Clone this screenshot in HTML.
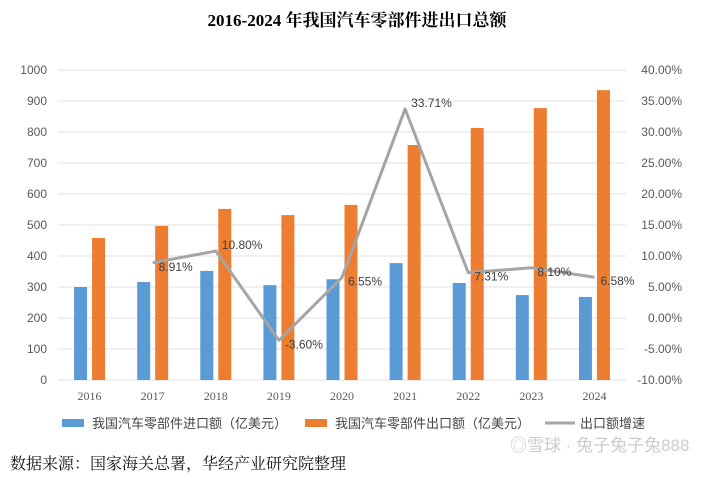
<!DOCTYPE html>
<html><head><meta charset="utf-8"><style>
body{margin:0;background:#fff;width:714px;height:477px;overflow:hidden;font-family:"Liberation Sans","Noto Sans CJK SC",sans-serif}
</style></head><body>
<svg id="chart" width="714" height="477" xmlns="http://www.w3.org/2000/svg">
<text x="357" y="26" text-anchor="middle" font-family="'Liberation Serif','Noto Serif CJK SC',serif" font-weight="bold" font-size="17" fill="#000">2016-2024 年我国汽车零部件进出口总额</text>
<g id="grid"></g><g id="bars"></g><g id="line"></g><g id="axes"></g>
<g font-size="13" fill="#444">
<rect x="62" y="419" width="22" height="8" fill="#5b9bd5"/>
<text x="92" y="428">我国汽车零部件进口额（亿美元）</text>
<rect x="305" y="419" width="22" height="8" fill="#ed7d31"/>
<text x="335" y="428">我国汽车零部件出口额（亿美元）</text>
<line x1="545" y1="423" x2="575" y2="423" stroke="#a5a5a5" stroke-width="3"/>
<text x="580" y="428">出口额增速</text>
</g>
<text x="10" y="469" font-size="16" font-family="'Liberation Serif','Noto Serif CJK SC',serif" fill="#111">数据来源：国家海关总署，华经产业研究院整理</text>
<text x="510" y="451" font-size="17" fill="#ccc">◎雪球 · 兔子兔子兔888</text>
</svg>
<script>
const years=["2016","2017","2018","2019","2020","2021","2022","2023","2024"];
const importVals=[300,316,352,306,325,377,313,274,268];
const exportVals=[458,497,552,532,565,758,813,877,935];
const growthVals=[null,8.91,10.80,-3.60,6.55,33.71,7.31,8.10,6.58];
const leftTicks=[0,100,200,300,400,500,600,700,800,900,1000];
const rightTicks=[-10,-5,0,5,10,15,20,25,30,35,40];
const NS="http://www.w3.org/2000/svg";
const x0=58,x1=626,yTop=70,yBot=380,step=(x1-x0)/years.length;
const yL=v=>yBot-(v/1000)*(yBot-yTop);
const yR=v=>yBot-((v+10)/50)*(yBot-yTop);
const xc=i=>x0+step*(i+0.5);
function mk(tag,attrs,parent,text){const e=document.createElementNS(NS,tag);for(const k in attrs)e.setAttribute(k,attrs[k]);if(text!==undefined)e.textContent=text;document.getElementById(parent).appendChild(e);return e;}
leftTicks.forEach(t=>{
 const l=mk('line',{x1:x0,x2:x1,y1:yL(t),y2:yL(t),stroke:'#e0e0e0','stroke-width':1},'grid');
 
 
 const tx=mk('text',{x:47,y:yL(t)+4,'text-anchor':'end','font-size':12,fill:'#595959'},'axes',String(t));
 
 
});
rightTicks.forEach(t=>{
 const tx=mk('text',{x:682,y:yR(t)+4,'text-anchor':'end','font-size':12,fill:'#595959'},'axes',t.toFixed(2)+'%');
 
 
});
years.forEach((y,i)=>{
 const c=xc(i);
 const b1=mk('rect',{x:c-15.5,y:yL(importVals[i]),width:13,height:yBot-yL(importVals[i]),fill:'#5b9bd5'},'bars');
 
 
 const b2=mk('rect',{x:c+2.5,y:yL(exportVals[i]),width:13,height:yBot-yL(exportVals[i]),fill:'#ed7d31'},'bars');
 
 
 const tx=mk('text',{x:c,y:400,'text-anchor':'middle','font-size':12,'font-family':"'Liberation Serif',serif",fill:'#595959'},'axes',y);
 
 
});
let pts=[];
growthVals.forEach((v,i)=>{if(v!==null)pts.push([xc(i),yR(v),v]);});
const pl=mk('polyline',{points:pts.map(p=>p[0]+','+p[1]).join(' '),fill:'none',stroke:'#a5a5a5','stroke-width':3,'stroke-linejoin':'round'},'line');


pts.forEach(p=>{
 const above=p[2]>10;
 const t=mk('text',{x:p[0]+6,y:above?p[1]-2:p[1]+8,'font-size':12,fill:'#404040'},'line',p[2].toFixed(2)+'%');
 
 
});
</script>
</body></html>
